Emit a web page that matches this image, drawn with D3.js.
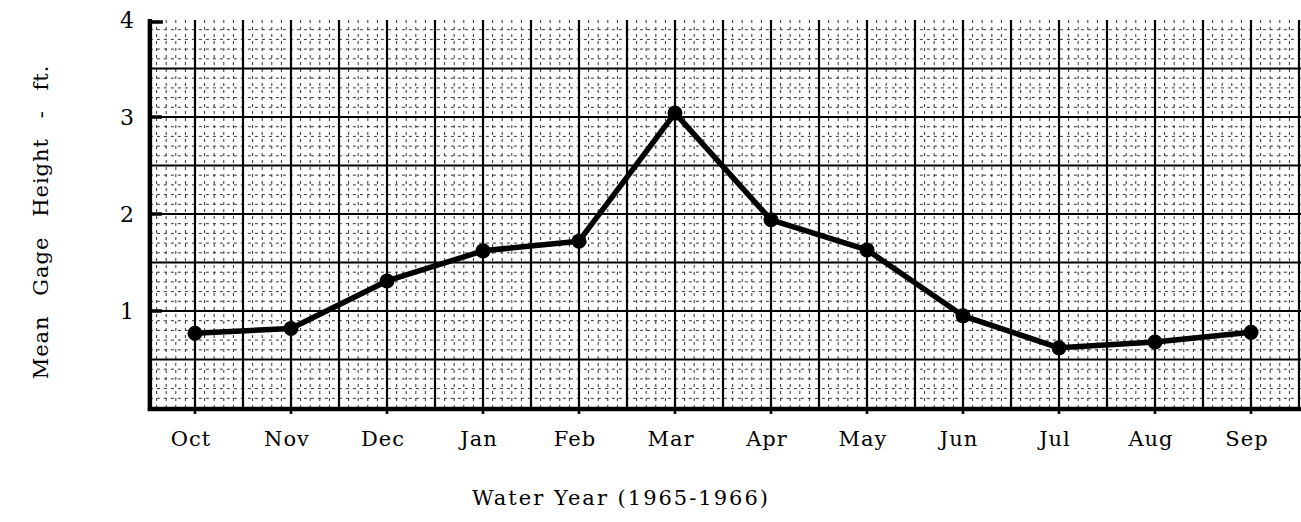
<!DOCTYPE html>
<html>
<head>
<meta charset="utf-8">
<script src="https://cdn.jsdelivr.net/npm/d3@7"></script>
<style>
  body { margin: 0; background: #fff; }
  text { font-family: "DejaVu Serif", "Liberation Serif", serif; fill: #000; }
</style>
</head>
<body>
<div id="canvas"></div>
<script>
// Datos
const months = ["Oct", "Nov", "Dec", "Jan", "Feb", "Mar", "Apr", "May", "Jun", "Jul", "Aug", "Sep"];
const gageHeight = [0.77, 0.82, 1.31, 1.62, 1.72, 3.04, 1.94, 1.63, 0.95, 0.62, 0.68, 0.78];
const yTicks = [1, 2, 3, 4];

const width = 1301;
const height = 522;

const svg = d3.select("#canvas").append("svg")
  .attr("width", width)
  .attr("height", height);

// escalas: x por indice de mes, y en pies
const x = d3.scaleLinear().domain([0, 11]).range([195, 1251]);
const y = d3.scaleLinear().domain([0, 4]).range([408, 20]);

const xLeft = -0.47;   // borde izquierdo del papel

// papel cuadriculado: lineas menores cada 0.1, mayores cada 0.5
const grid = svg.append("g");
const vMinor = d3.range(-4, 116).map(k => k / 10);
const hMinor = d3.range(1, 41).map(k => k / 10);

grid.selectAll(".vmin")
  .data(vMinor.filter(v => Math.round(v * 10) % 5 !== 0))
  .enter().append("line")
  .attr("x1", d => x(d)).attr("x2", d => x(d))
  .attr("y1", y(4)).attr("y2", y(0))
  .attr("stroke", "#333").attr("stroke-width", 1)
  .attr("stroke-dasharray", "3,4");

grid.selectAll(".hmin")
  .data(hMinor.filter(v => Math.round(v * 10) % 5 !== 0))
  .enter().append("line")
  .attr("x1", x(xLeft)).attr("x2", width)
  .attr("y1", d => y(d)).attr("y2", d => y(d))
  .attr("stroke", "#333").attr("stroke-width", 1)
  .attr("stroke-dasharray", "3,4");

grid.selectAll(".vmaj")
  .data(d3.range(0, 24).map(k => k / 2))
  .enter().append("line")
  .attr("x1", d => x(d)).attr("x2", d => x(d))
  .attr("y1", y(4)).attr("y2", y(0))
  .attr("stroke", "#000").attr("stroke-width", 2.2);

grid.selectAll(".hmaj")
  .data(d3.range(1, 8).map(k => k / 2))
  .enter().append("line")
  .attr("x1", x(xLeft)).attr("x2", width)
  .attr("y1", d => y(d)).attr("y2", d => y(d))
  .attr("stroke", "#000").attr("stroke-width", 2.2);

// ejes gruesos
svg.append("line")
  .attr("x1", x(xLeft)).attr("x2", x(xLeft))
  .attr("y1", y(4) - 1).attr("y2", y(0) + 3)
  .attr("stroke", "#000").attr("stroke-width", 4.5);

svg.append("line")
  .attr("x1", x(xLeft) - 2).attr("x2", width)
  .attr("y1", y(0) + 1).attr("y2", y(0) + 1)
  .attr("stroke", "#000").attr("stroke-width", 4.5);

// gancho arriba a la izquierda
svg.append("line")
  .attr("x1", x(xLeft)).attr("x2", x(xLeft) + 13)
  .attr("y1", y(4) + 2).attr("y2", y(4) + 2)
  .attr("stroke", "#000").attr("stroke-width", 3.5);

// marcas en el eje y
svg.selectAll(".ytick")
  .data(yTicks.filter(d => d < 4))
  .enter().append("line")
  .attr("x1", x(xLeft)).attr("x2", x(xLeft) + 12)
  .attr("y1", d => y(d)).attr("y2", d => y(d))
  .attr("stroke", "#000").attr("stroke-width", 3.5);

// marcas en el eje x
svg.selectAll(".xtick")
  .data(months)
  .enter().append("line")
  .attr("x1", (d, i) => x(i)).attr("x2", (d, i) => x(i))
  .attr("y1", y(0)).attr("y2", y(0) + 6)
  .attr("stroke", "#000").attr("stroke-width", 2.5);

// etiquetas
svg.selectAll(".ylab")
  .data(yTicks)
  .enter().append("text")
  .attr("x", 134)
  .attr("y", d => y(d) + 8)
  .attr("text-anchor", "end")
  .style("font-size", "22px")
  .text(d => d);

svg.selectAll(".xlab")
  .data(months)
  .enter().append("text")
  .attr("x", (d, i) => x(i) - 4)
  .attr("y", 446)
  .attr("text-anchor", "middle")
  .style("font-size", "21px")
  .style("letter-spacing", "1px")
  .text(d => d);

svg.append("text")
  .attr("x", 621)
  .attr("y", 505)
  .attr("text-anchor", "middle")
  .style("font-size", "21px")
  .style("letter-spacing", "2px")
  .text("Water Year (1965-1966)");

svg.append("text")
  .attr("transform", "translate(48," + 222 + ") rotate(-90)")
  .attr("text-anchor", "middle")
  .style("font-size", "21px")
  .style("letter-spacing", "1px")
  .style("word-spacing", "12px")
  .text("Mean Gage Height - ft.");

// serie
const line = d3.line()
  .x((d, i) => x(i))
  .y(d => y(d));

svg.append("path")
  .datum(gageHeight)
  .attr("d", line)
  .attr("fill", "none")
  .attr("stroke", "#000")
  .attr("stroke-width", 5.5)
  .attr("stroke-linejoin", "round");

svg.selectAll(".dot")
  .data(gageHeight)
  .enter().append("circle")
  .attr("cx", (d, i) => x(i))
  .attr("cy", d => y(d))
  .attr("r", 7.5)
  .attr("fill", "#000");
</script>
</body>
</html>
